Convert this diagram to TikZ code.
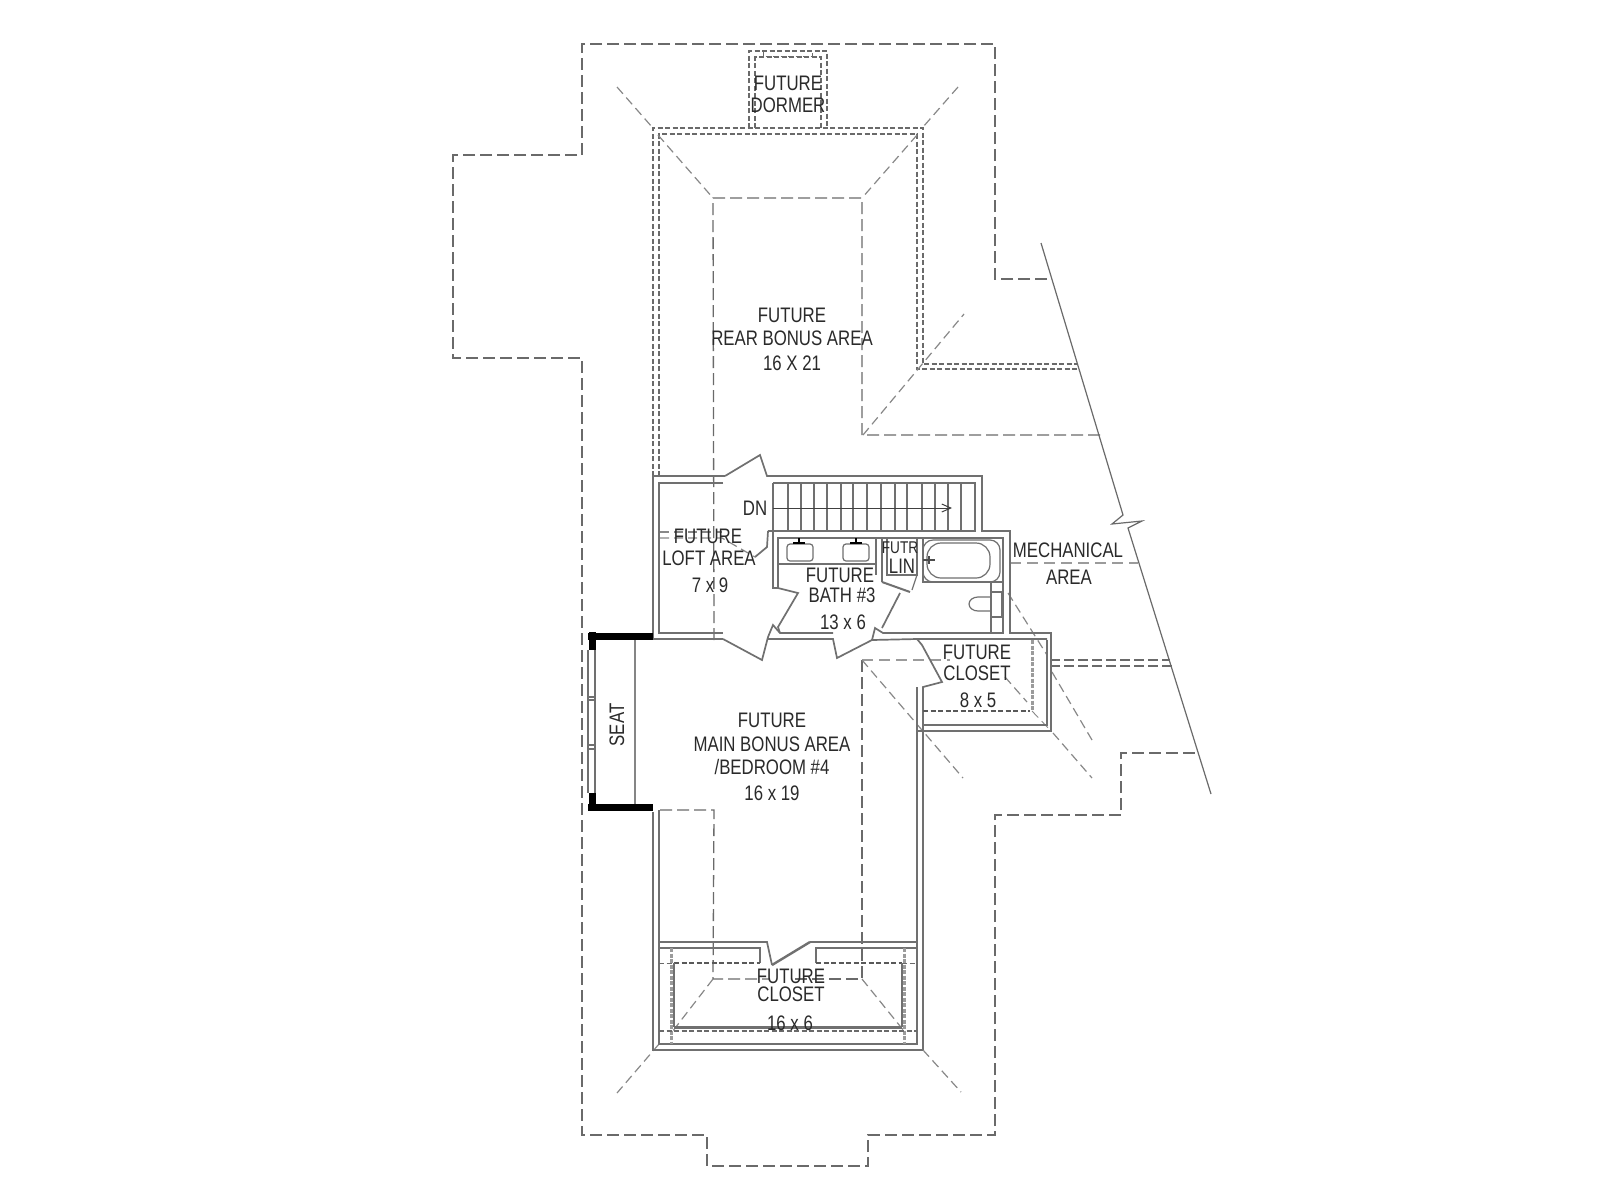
\documentclass[tikz,border=0pt]{standalone}
\usepackage{fontspec}
\usetikzlibrary{arrows.meta}
\setmainfont[FakeStretch=0.8]{Liberation Sans}
\definecolor{wallc}{HTML}{707070}
\definecolor{dashc}{HTML}{6A6A6A}
\definecolor{txtc}{HTML}{2A2A2A}
\tikzset{
  wall/.style={draw=wallc,line width=1.7pt,line join=miter},
  thin wall/.style={draw=wallc,line width=1.2pt},
  roofdash/.style={draw=dashc,line width=1.3pt,dash pattern=on 12pt off 5pt},
  hipdash/.style={draw=dashc!80,line width=1.2pt,dash pattern=on 9pt off 5pt},
  finedash/.style={draw=dashc,line width=1.3pt,dash pattern=on 5pt off 2.5pt},
  mechdash/.style={draw=wallc!70,line width=2pt,dash pattern=on 11pt off 6pt},
  dotgray/.style={draw=wallc!70,line width=3pt,dash pattern=on 4pt off 1.5pt},
  blackbar/.style={draw=black,line width=7pt},
  plantext/.style={text=txtc,font=\fontsize{21}{21}\selectfont,inner sep=0pt,anchor=center},
  smallplantext/.style={text=txtc,font=\fontsize{17}{17}\selectfont,inner sep=0pt,anchor=center}
}
\begin{document}
\begin{tikzpicture}[x=1pt,y=-1pt]
\useasboundingbox (0,0) rectangle (1600,1200);
\fill[white] (0,0) rectangle (1600,1200);
% outer roof outline
\draw[roofdash] (1047,279)--(995,279)--(995,44)--(582,44)--(582,155)--(453,155)--(453,358)--(582,358)--(582,1135)--(707,1135)--(707,1166)--(868,1166)--(868,1135)--(995,1135)--(995,815)--(1121,815)--(1121,753)--(1199,753);
% roof edge with break
\draw[thin wall,draw=dashc] (1041,243)--(1123,515)--(1112,524)--(1142,521)--(1128,528)--(1211,794);
% dormer
\draw[finedash] (749,128)--(749,51)--(827,51)--(827,128);
\draw[finedash] (755,128)--(755,57)--(821,57)--(821,128);
\draw[finedash,line width=1pt] (763,51)--(763,56)--(812,56)--(812,51);
% rear frame
\draw[finedash] (653,476)--(653,128)--(923,128)--(923,364)--(1078,364);
\draw[finedash] (659,476)--(659,134)--(917,134)--(917,369)--(1078,369);
% hips rear
\draw[hipdash] (617,87)--(652,127);
\draw[hipdash] (958,87)--(923,127);
\draw[hipdash] (658,135)--(713,198);
\draw[hipdash] (917,135)--(862,198);
\draw[hipdash] (863,435)--(964,314);
% ridge lines
\draw[roofdash] (714,640)--(713,198)--(862,198)--(862,435)--(1100,435);
\draw[mechdash] (1010,563)--(1138,563);
\draw[roofdash,line width=1.1pt,dash pattern=on 10pt off 4pt] (1050,660)--(1170,660);
\draw[roofdash,line width=1.1pt,dash pattern=on 10pt off 4pt] (1050,666)--(1172,666);
% main-room ridges
\draw[mechdash] (862,660)--(950,660);
\draw[roofdash] (862,660)--(862,979)--(790,979);
\draw[roofdash] (660,810)--(714,810)--(713,979)--(770,979);
% side hips
\draw[hipdash] (862,660)--(963,778);
\draw[hipdash] (1008,593)--(1047,655);
\draw[hipdash] (1052,672)--(1092,740);
\draw[hipdash] (1053,733)--(1092,778);
\draw[hipdash] (1005,677)--(1027,702);
\draw[hipdash,line width=.9pt] (1032,711)--(1051,731);
% bottom hips
\draw[hipdash] (713,979)--(672,1032);
\draw[hipdash] (659,1044)--(617,1093);
\draw[hipdash] (862,979)--(904,1031);
\draw[hipdash] (923,1050)--(961,1092);
% loft walls
\draw[wall] (725,476)--(653,476)--(653,639)--(723,639);
\draw[wall] (723,483)--(659,483)--(659,633)--(723,633);
\draw[wall] (725,476)--(760,455)--(767,476)--(982,476)--(982,531)--(1010,531)--(1010,633)--(1051,633)--(1051,731)--(917,731);
\draw[wall] (723,639)--(762,660)--(768,637);
\draw[wall] (768,639)--(833,639)--(837,658)--(872,640)--(917,639)--(1047,639);
\draw[wall] (768,637)--(773,625)--(780,633)--(833,633);
\draw[wall] (872,640)--(875,628)--(883,633)--(1003,633)--(1003,538)--(778,538)--(778,588)--(798,593)--(778,627)--(780,633);
\draw[wall] (773,483)--(975,483)--(975,531)--(768,531);
\draw[wall] (773,483)--(773,588)--(778,588);
\draw[wall] (882,628)--(900,593);
% loft door leaf/dashes
\draw[wall] (768,531)--(767,547)--(755,557);
\draw[hipdash] (660,532)--(722,532);
\draw[hipdash] (660,538)--(722,538)--(755,557);
% stairs
\foreach \tx in {788,801,814,827,841,853,867,881,895,907,922,935,948,961}{\draw[thin wall] (\tx,483)--(\tx,531);}
\draw[draw=black!75,line width=1pt,-{Straight Barb[length=9pt,width=8pt]}] (773,508)--(952,508);
% bath fixtures
\draw[wall] (778,564)--(876,564);
\draw[wall] (876,538)--(876,575);
\draw[thin wall] (882,538)--(882,582);
\draw[thin wall] (887,538)--(887,575)--(917,575)--(917,538);
\draw[thin wall] (923,538)--(923,582)--(1003,582);
\draw[wall,line width=2pt] (882,582)--(910,592);
\draw[thin wall] (917,575)--(912,590);
\draw[thin wall,rounded corners=3pt] (787,544) rectangle (813,561);
\draw[thin wall,rounded corners=3pt] (843,544) rectangle (869,561);
\draw[black,line width=2pt] (793,543)--(805,543) (799,538)--(799,543);
\draw[black,line width=2pt] (850,543)--(862,543) (856,538)--(856,543);
\draw[thin wall,rounded corners=14pt] (927,543) rectangle (990,578);
\draw[thin wall,rounded corners=10pt] (923,540) rectangle (1000,582);
\draw[black!70,line width=1.2pt] (923,560)--(935,560) (929,556)--(929,564);
\draw[thin wall] (991,592) rectangle (1002,617);
\draw[thin wall] (991,597)--(978,597) arc[start angle=90,end angle=270,x radius=9pt,y radius=7pt]--(991,611);
\draw[thin wall] (991,582)--(991,633);
% closet right
\draw[wall] (917,639)--(922,645)--(942,682)--(923,687)--(923,725)--(1047,725)--(1047,640);
\draw[wall] (917,687)--(917,942);
\draw[wall] (923,687)--(923,1050);
\draw[finedash,draw=black!65] (923,711)--(1030,711);
\draw[dotgray] (1032,640)--(1032,711);
% left of main and seat
\draw[wall] (653,812)--(653,1050)--(923,1050);
\draw[wall] (659,810)--(659,1044)--(917,1044)--(917,942)--(810,942);
\draw[blackbar] (588,636)--(653,636);
\draw[blackbar] (592,632)--(592,650);
\draw[blackbar] (588,807)--(653,807);
\draw[blackbar] (592,793)--(592,811);
\draw[thin wall] (588,650)--(588,793);
\draw[thin wall] (595,650)--(595,793);
\draw[thin wall] (588,697)--(595,697) (588,700)--(595,700) (588,745)--(595,745) (588,749)--(595,749);
\draw[wall,draw=wallc!85,line width=1.8pt] (635,640)--(635,804);
% bottom closet
\draw[wall] (659,942)--(767,942)--(772,965);
\draw[wall,line width=2.4pt] (772,965)--(810,942);
\draw[wall] (659,948)--(760,948)--(760,963);
\draw[wall] (816,963)--(816,948)--(917,948);
\draw[finedash,draw=black!65] (674,963)--(760,963);
\draw[finedash,draw=black!65] (816,963)--(902,963);
\draw[finedash,line width=1pt] (659,963)--(674,963) (902,963)--(917,963);
\draw[thin wall,line width=1.4pt] (674,963)--(674,1027);
\draw[thin wall,line width=1.4pt] (902,963)--(902,1027);
\draw[dotgray] (671,948)--(671,1044);
\draw[dotgray] (904,948)--(904,1044);
\draw[draw=wallc,line width=3pt] (674,1027)--(902,1027);
\draw[finedash] (659,1031)--(917,1031);
% text
\node[plantext] (dormerA) at (788,83) {FUTURE};
\node[plantext] (dormerB) at (788,105) {DORMER};
\node[plantext] (rearA) at (792,315) {FUTURE};
\node[plantext] (rearB) at (792,338) {REAR BONUS AREA};
\node[plantext] (rearC) at (792,363) {16 X 21};
\node[plantext] (dn) at (755,508) {DN};
\node[plantext] (loftA) at (708,536) {FUTURE};
\node[plantext] (loftB) at (709,558) {LOFT AREA};
\node[plantext] (loftC) at (710,585) {7 x 9};
\node[plantext] (bathA) at (840,575) {FUTURE};
\node[plantext] (bathB) at (842,595) {BATH \#3};
\node[plantext] (bathC) at (843,622) {13 x 6};
\node[smallplantext] (linA) at (900,548) {FUTR};
\node[plantext] (linB) at (902,566) {LIN};
\node[plantext] (mechA) at (1068,550) {MECHANICAL};
\node[plantext] (mechB) at (1069,577) {AREA};
\node[plantext] (cloA) at (977,652) {FUTURE};
\node[plantext] (cloB) at (977,673) {CLOSET};
\node[plantext] (cloC) at (978,700) {8 x 5};
\node[plantext,rotate=90] (seat) at (617,725) {SEAT};
\node[plantext] (mainA) at (772,720) {FUTURE};
\node[plantext] (mainB) at (772,744) {MAIN BONUS AREA};
\node[plantext] (mainC) at (772,767) {/BEDROOM \#4};
\node[plantext] (mainD) at (772,793) {16 x 19};
\node[plantext] (botA) at (791,976) {FUTURE};
\node[plantext] (botB) at (791,994) {CLOSET};
\node[plantext] (botC) at (790,1023) {16 x 6};
\end{tikzpicture}
\end{document}
